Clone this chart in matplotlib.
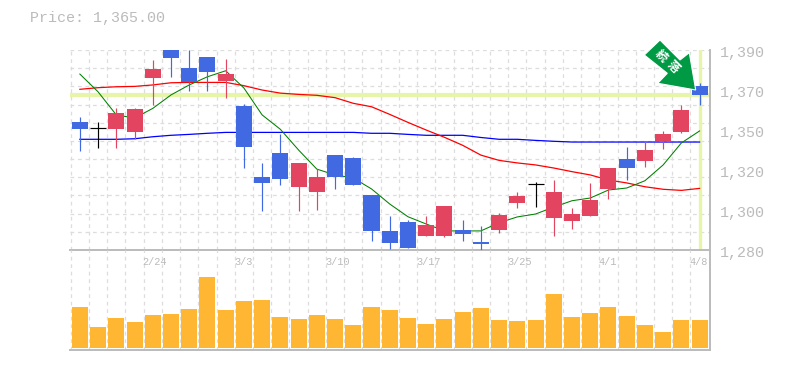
import matplotlib
matplotlib.use('Agg')
import matplotlib.pyplot as plt
from matplotlib.patches import Polygon

W, H = 785., 370.

# daily candles
opens = [1350.4, 1346.9, 1346.5, 1344.9, 1374.6, 1390.0, 1380.1, 1386.2, 1373.0, 1359.2,
         1320.2, 1333.4, 1314.6, 1311.9, 1332.3, 1330.6, 1310.3, 1290.5, 1295.4, 1287.7,
         1287.7, 1291.0, 1284.4, 1291.0, 1305.9, 1316.3, 1297.6, 1296.0, 1298.7, 1313.5,
         1330.0, 1329.0, 1340.0, 1344.9, 1370.2]
highs = [1353.2, 1350.4, 1358.1, 1358.1, 1384.5, 1390.0, 1390.0, 1386.2, 1385.0, 1360.3,
         1327.9, 1343.8, 1327.9, 1324.5, 1332.3, 1331.2, 1310.3, 1298.7, 1296.5, 1298.7,
         1304.2, 1296.5, 1293.2, 1300.4, 1311.9, 1317.4, 1318.5, 1303.1, 1316.8, 1325.1,
         1336.7, 1340.0, 1345.5, 1359.8, 1371.9]
lows = [1334.5, 1336.3, 1336.3, 1340.9, 1359.8, 1375.2, 1367.5, 1367.5, 1363.6, 1325.1,
        1301.5, 1315.8, 1301.5, 1302.0, 1313.5, 1315.8, 1285.0, 1280.5, 1281.1, 1287.7,
        1287.2, 1285.0, 1279.5, 1289.3, 1303.1, 1303.7, 1287.7, 1291.6, 1298.7, 1308.0,
        1318.5, 1325.7, 1335.5, 1344.4, 1359.8]
closes = [1346.5, 1346.9, 1355.4, 1357.5, 1379.5, 1385.6, 1372.4, 1377.9, 1376.8, 1336.7,
          1316.9, 1319.0, 1327.9, 1320.2, 1320.2, 1315.8, 1290.5, 1283.9, 1281.1, 1293.8,
          1304.2, 1288.8, 1283.3, 1299.2, 1309.7, 1316.3, 1311.9, 1299.8, 1307.5, 1325.1,
          1325.1, 1335.0, 1343.8, 1357.0, 1365.3]

ma_short = [1376.8, 1367.0, 1354.3, 1352.6, 1357.9, 1365.3, 1370.8, 1375.3, 1378.6, 1369.1,
            1354.3, 1346.4, 1335.0, 1324.5, 1321.3, 1319.6, 1313.6, 1305.3, 1298.3, 1294.3,
            1290.5, 1290.5, 1290.5, 1295.0, 1298.2, 1299.8, 1303.6, 1307.1, 1308.6, 1313.0,
            1314.1, 1318.1, 1326.8, 1338.9, 1345.5]
ma_mid = [1368.4, 1369.3, 1369.8, 1370.0, 1370.8, 1372.0, 1372.2, 1372.2, 1372.2, 1370.4,
          1368.0, 1366.3, 1365.6, 1365.1, 1363.8, 1360.7, 1358.8, 1354.6, 1350.2, 1346.0,
          1342.0, 1337.6, 1332.2, 1329.3, 1327.9, 1326.8, 1325.1, 1323.1, 1321.3, 1318.5,
          1316.9, 1314.8, 1313.4, 1312.8, 1313.9]
ma_long = [1340.9, 1340.9, 1340.9, 1341.2, 1342.3, 1343.1, 1343.6, 1344.2, 1344.7, 1344.7,
           1344.7, 1344.7, 1344.7, 1344.7, 1344.7, 1344.7, 1344.2, 1344.2, 1343.6, 1343.1,
           1343.1, 1343.1, 1341.9, 1340.9, 1340.9, 1340.3, 1339.8, 1339.4, 1339.4, 1339.4,
           1339.4, 1339.4, 1339.4, 1339.4, 1339.4]

volumes = [41, 21, 30, 26, 33, 34, 39, 71, 38, 47, 48, 31, 29, 33, 29, 23, 41, 38,
           30, 24, 29, 36, 40, 28, 27, 28, 54, 31, 35, 41, 32, 23, 16, 28, 28]

last_price = 1365.25
price_ticks = [1390, 1368, 1346, 1324, 1302, 1280]
price_labels = ['1,390', '1,370', '1,350', '1,320', '1,300', '1,280']
date_pos = [4, 9, 14, 19, 24, 29, 34]
date_labels = ['2/24', '3/3', '3/10', '3/17', '3/25', '4/1', '4/8']

UP = '#E3445F'
DOWN = '#4169E1'
GRID = '#DDDDDD'
EDGE = '#BBBBBB'
TEXT = '#BBBBBB'
MARK = '#E6F5A8'
MONO = 'Liberation Mono'

n = len(opens)
x = list(range(n))

fig = plt.figure(figsize=(W / 100, H / 100), dpi=100)
left, right = 70.2 / W, 710. / W
ax = fig.add_axes([left, (H - 250) / H, right - left, 200.5 / H])
vol = fig.add_axes([left, (H - 350) / H, right - left, 100 / H])

# setup both panels, same x scale
for a in (ax, vol):
    a.set_xlim(-0.53, 34.57)
    a.set_xticks([i - 0.5 for i in x])
    a.tick_params(length=0, labelbottom=False, labelleft=False)
    a.grid(axis='x', color=GRID, lw=0.9, ls=(0, (3, 3)))
    a.set_axisbelow(True)
    a.patch.set_alpha(0)
    for s in a.spines.values():
        s.set_visible(False)
    a.spines['bottom'].set_visible(True)
    a.spines['right'].set_visible(True)
    a.spines['bottom'].set_color(EDGE)
    a.spines['right'].set_color(EDGE)
    a.spines['bottom'].set_linewidth(1.4)
    a.spines['right'].set_linewidth(1.4)

# price panel
ax.set_ylim(1280, 1390.3)
ax.set_yticks(range(1280, 1391, 10))
ax.grid(axis='y', color=GRID, lw=0.9, ls=(0, (3, 3)))
ax.axhline(last_price, color=MARK, lw=3.0, zorder=1)
ax.axvline(x[-1], color=MARK, lw=2.4, ymin=0.01, zorder=1)

ax.plot(x, ma_long, color='#0000FF', lw=0.9, zorder=2)
ax.plot(x, ma_mid, color='#FF0000', lw=0.9, zorder=2)
ax.plot(x, ma_short, color='#008000', lw=0.75, zorder=2)

for i in x:
    o, h, l, c = opens[i], highs[i], lows[i], closes[i]
    if o == c:
        col = 'black'
    elif c > o:
        col = UP
    else:
        col = DOWN
    ax.vlines(i, l, h, color=col, lw=0.85, zorder=3)
    if o == c:
        ax.hlines(o, i - 0.44, i + 0.44, color=col, lw=0.85, zorder=3)
    else:
        ax.bar(i, abs(c - o), bottom=min(o, c), width=0.88, color=col, zorder=3)

for t, lab in zip(price_ticks, price_labels):
    ax.annotate(lab, (1, t), xycoords=('axes fraction', 'data'), xytext=(7.5, -2.2),
                textcoords='offset points', color=TEXT, family=MONO, fontsize=10.8,
                va='center', ha='left', annotation_clip=False)

# volume panel
vol.set_ylim(-2, 98)
vol.set_yticks([])
vol.bar(x, volumes, width=0.88, color='#FFB733', zorder=3)
for p, lab in zip(date_pos, date_labels):
    vol.text(p - 0.55, 86, lab, color=TEXT, family=MONO, fontsize=7.4, ha='left', va='center', zorder=4)

# signal arrow on top of everything
arrow_px = [(644.3, 55), (660, 40), (680, 60), (689.3, 52.7), (695.7, 90), (657.7, 83.3), (667.3, 73.3)]
arrow = Polygon([(px / W, 1 - py / H) for px, py in arrow_px], closed=True, transform=fig.transFigure,
                facecolor='#009944', edgecolor='white', lw=0.8, zorder=10)
fig.add_artist(arrow)
fig.text(661 / W, 1 - 56 / H, '続', color='white', fontsize=8.5, fontweight='bold',
         family=['Noto Sans CJK JP', 'DejaVu Sans'], rotation=-45, ha='center', va='center', zorder=11)
fig.text(672.7 / W, 1 - 67 / H, '落', color='white', fontsize=8.5, fontweight='bold',
         family=['Noto Sans CJK JP', 'DejaVu Sans'], rotation=-45, ha='center', va='center', zorder=11)

fig.text(29.5 / W, 1 - 18 / H, 'Price: 1,365.00', color=TEXT, family=MONO, fontsize=10.8, ha='left', va='center')

fig.savefig('out.png', dpi=100)
